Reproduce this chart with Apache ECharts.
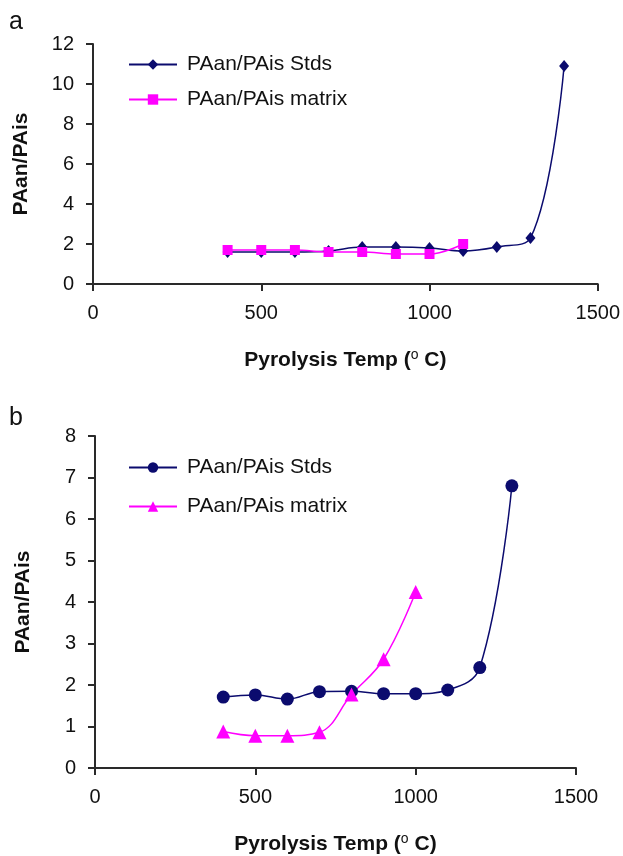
<!doctype html>
<html>

	<head>
		<meta charset="UTF-8">
		<title>Pyrolysis Temp</title>
		<style>
			html,
			body {
				margin: 0;
				padding: 0;
				background: #ffffff;
			}

			.chart {
				width: 623px;
				height: 856px;
			}
		</style>
	</head>

	<body>
		<div class="chart" id="mainChart"></div>

		<script src="https://cdn.jsdelivr.net/npm/echarts@6/dist/echarts.min.js" type="text/javascript" charset="utf-8"></script>

		<script type="text/javascript">
			// 图 a
			var tempA = [400, 500, 600, 700, 800, 900, 1000, 1100, 1200, 1300, 1400];
			var stdsA = [1.6, 1.6, 1.6, 1.65, 1.85, 1.85, 1.8, 1.65, 1.85, 2.3, 10.9];
			var matrixTempA = [400, 500, 600, 700, 800, 900, 1000, 1100];
			var matrixA = [1.7, 1.7, 1.7, 1.6, 1.6, 1.5, 1.5, 2.0];

			// 图 b
			var tempB = [400, 500, 600, 700, 800, 900, 1000, 1100, 1200, 1300];
			var stdsB = [1.71, 1.76, 1.66, 1.84, 1.85, 1.79, 1.79, 1.88, 2.42, 6.8];
			var matrixTempB = [400, 500, 600, 700, 800, 900, 1000];
			var matrixB = [0.88, 0.78, 0.78, 0.86, 1.77, 2.62, 4.24];

			var legendNames = ['PAan/PAis Stds', 'PAan/PAis matrix'];
			var yTitle = 'PAan/PAis';

			var navy = '#0b0b6e';
			var pink = '#ff00ff';
			var axisColor = '#2a2a2a';
			var fontName = 'Liberation Sans';

			function pairs(xs, ys) {
				var arr = [];
				for(var i = 0; i < xs.length; i++) {
					arr.push([xs[i], ys[i]]);
				}
				return arr;
			}

			function xAxisOf(idx) {
				return {
					type: 'value',
					gridIndex: idx,
					min: 0,
					max: 1500,
					interval: 500,
					name: '{n|Pyrolysis Temp (}{s|o}{n| C)}',
					nameLocation: 'middle',
					nameGap: 64,
					nameTextStyle: {
						rich: {
							n: {
								fontFamily: fontName,
								fontWeight: 'bold',
								fontSize: 21,
								color: '#111'
							},
							s: {
								fontFamily: fontName,
								fontSize: 14,
								color: '#111',
								verticalAlign: 'top',
								padding: [0, 0, 11, 0]
							}
						}
					},
					splitLine: {
						show: false
					},
					axisLine: {
						lineStyle: {
							color: axisColor,
							width: 2
						}
					},
					axisTick: {
						length: 7,
						lineStyle: {
							color: axisColor,
							width: 2
						}
					},
					axisLabel: {
						margin: 19,
						fontFamily: fontName,
						fontSize: 20,
						color: '#111',
						formatter: function(v) {
							return '' + v;
						}
					}
				};
			}

			function yAxisOf(idx, max, interval) {
				return {
					type: 'value',
					gridIndex: idx,
					min: 0,
					max: max,
					interval: interval,
					name: yTitle,
					nameLocation: 'middle',
					nameGap: 61,
					nameTextStyle: {
						fontFamily: fontName,
						fontWeight: 'bold',
						fontSize: 21,
						color: '#111'
					},
					splitLine: {
						show: false
					},
					axisLine: {
						show: true,
						lineStyle: {
							color: axisColor,
							width: 2
						}
					},
					axisTick: {
						show: true,
						length: 7,
						lineStyle: {
							color: axisColor,
							width: 2
						}
					},
					axisLabel: {
						margin: 19,
						fontFamily: fontName,
						fontSize: 20,
						color: '#111'
					}
				};
			}

			function legendOf(idx, top, gap) {
				return {
					orient: 'vertical',
					left: 128,
					top: top,
					padding: 0,
					itemWidth: 48,
					itemHeight: 13,
					itemGap: gap,
					data: legendNames.map(function(n) {
						return {
							name: n + (idx == 1 ? ' ' : '')
						};
					}),
					textStyle: {
						fontFamily: fontName,
						fontSize: 21,
						color: '#111',
						padding: [0, 0, 0, 5]
					}
				};
			}

			var option = {
				animation: false,
				backgroundColor: '#ffffff',
				graphic: [{
					type: 'text',
					left: 9,
					top: 10,
					style: {
						text: 'a',
						fontFamily: fontName,
						fontSize: 25,
						fill: '#111'
					}
				}, {
					type: 'text',
					left: 9,
					top: 406,
					style: {
						text: 'b',
						fontFamily: fontName,
						fontSize: 25,
						fill: '#111'
					}
				}],
				legend: [legendOf(0, 54, 14), legendOf(1, 457, 18)],
				grid: [{
					left: 93,
					right: 23,
					top: 44,
					height: 240
				}, {
					left: 95,
					right: 47,
					top: 436,
					height: 334
				}],
				xAxis: [xAxisOf(0), xAxisOf(1)],
				yAxis: [yAxisOf(0, 12, 2), yAxisOf(1, 8, 1)],
				series: [{
					name: legendNames[0],
					type: 'line',
					xAxisIndex: 0,
					yAxisIndex: 0,
					smooth: 0.4,
					symbol: 'diamond',
					symbolSize: [10, 12],
					itemStyle: {
						color: navy
					},
					lineStyle: {
						color: navy,
						width: 1.5
					},
					data: pairs(tempA, stdsA)
				}, {
					name: legendNames[1],
					type: 'line',
					xAxisIndex: 0,
					yAxisIndex: 0,
					smooth: 0.4,
					symbol: 'rect',
					symbolSize: 10,
					itemStyle: {
						color: pink
					},
					lineStyle: {
						color: pink,
						width: 1.5
					},
					data: pairs(matrixTempA, matrixA)
				}, {
					name: legendNames[0] + ' ',
					type: 'line',
					xAxisIndex: 1,
					yAxisIndex: 1,
					smooth: 0.4,
					symbol: 'circle',
					symbolSize: 13,
					itemStyle: {
						color: navy
					},
					lineStyle: {
						color: navy,
						width: 1.5
					},
					data: pairs(tempB, stdsB)
				}, {
					name: legendNames[1] + ' ',
					type: 'line',
					xAxisIndex: 1,
					yAxisIndex: 1,
					smooth: 0.4,
					symbol: 'triangle',
					symbolSize: 14,
					itemStyle: {
						color: pink
					},
					lineStyle: {
						color: pink,
						width: 1.5
					},
					data: pairs(matrixTempB, matrixB)
				}]
			}; // end option

			var mainChart = echarts.init(document.getElementById('mainChart'));
			mainChart.setOption(option);
		</script>
	</body>

</html>
